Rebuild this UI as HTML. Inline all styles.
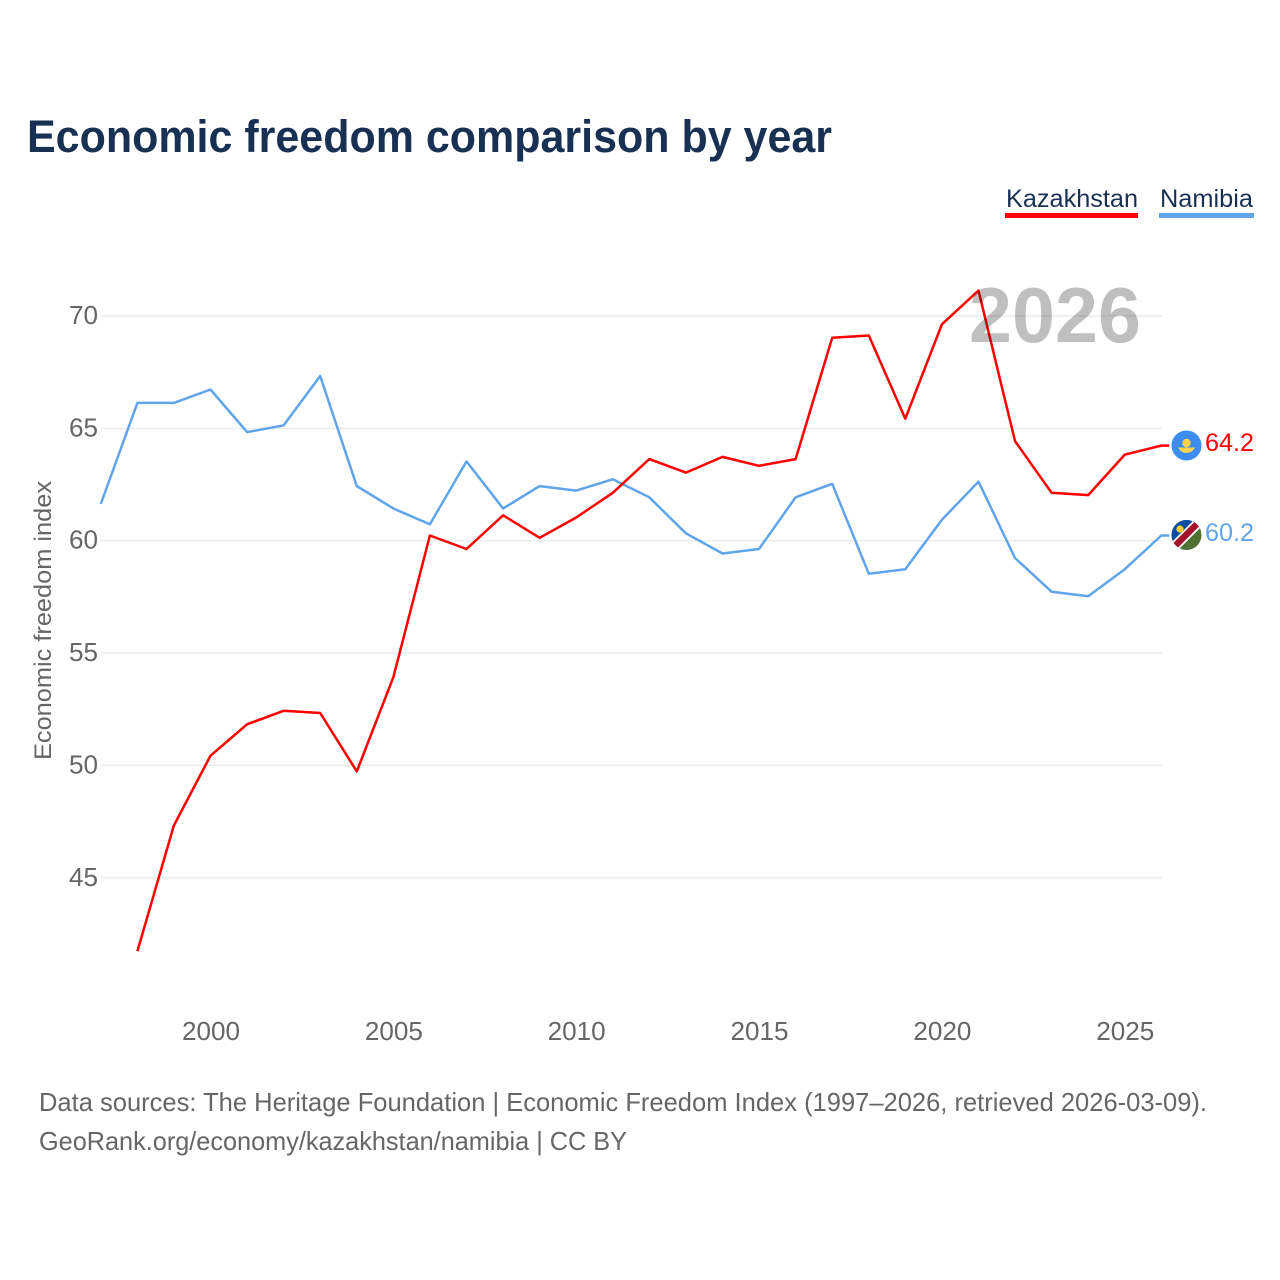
<!DOCTYPE html>
<html lang="en">
<head>
<meta charset="utf-8">
<title>Economic freedom comparison by year</title>
<style>
html,body{margin:0;padding:0;background:#fff}
svg{display:block;font-family:"Liberation Sans",sans-serif}
</style>
</head>
<body>
<svg id="chart" xmlns="http://www.w3.org/2000/svg" width="1280" height="1280" viewBox="0 0 1280 1280">
<rect width="1280" height="1280" fill="#fff"/>
<text x="27" y="152" font-size="45" font-weight="700" fill="#183153" textLength="805" lengthAdjust="spacingAndGlyphs">Economic freedom comparison by year</text>
<g id="grid"></g>
<g id="yticks"></g>
<g id="xticks"></g>
<text transform="translate(51 760) rotate(-90)" font-size="24" fill="#666" textLength="279" lengthAdjust="spacingAndGlyphs">Economic freedom index</text>
<g id="lines" transform="translate(-0.5 -0.7)"></g>
<text x="969" y="342" font-size="78" font-weight="700" fill="#000" fill-opacity="0.25" textLength="172" lengthAdjust="spacingAndGlyphs">2026</text>

<g>
<text x="1006" y="207" font-size="25" fill="#183153" textLength="132" lengthAdjust="spacingAndGlyphs">Kazakhstan</text>
<rect x="1005" y="213" width="133" height="5" fill="#ff0000"/>
</g>
<g>
<text x="1160" y="207" font-size="25" fill="#183153" textLength="93" lengthAdjust="spacingAndGlyphs">Namibia</text>
<rect x="1159" y="213" width="95" height="5" fill="#60a5ec"/>
</g>

<g>
<circle cx="1186.5" cy="445.5" r="15" fill="#3b8df0"/>
<circle cx="1186.5" cy="443" r="4.2" fill="#ffd24d"/>
<path d="M1178 447.5 L1195 447.5 Q1192 453 1186.5 453 Q1181 453 1178 447.5 Z" fill="#ffd24d"/>
</g>
<g>
<clipPath id="nam-clip"><circle cx="1186.5" cy="535" r="15"/></clipPath>
<g clip-path="url(#nam-clip)">
<rect x="1171" y="520" width="31" height="30" fill="#4f7233"/>
<polygon points="1171,520 1202,520 1171,550" fill="#0b4ea2"/>
<line x1="1173" y1="548" x2="1199" y2="522" stroke="#fff" stroke-width="10"/>
<line x1="1173" y1="548" x2="1199" y2="522" stroke="#a6122d" stroke-width="6.5"/>
<circle cx="1180" cy="529" r="3.6" fill="#ffce33"/>
</g>
</g>
<text x="1205" y="451" font-size="25" fill="#ff0000" textLength="49" lengthAdjust="spacingAndGlyphs">64.2</text>
<text x="1205" y="541" font-size="25" fill="#60a5ec" textLength="49" lengthAdjust="spacingAndGlyphs">60.2</text>

<text x="39" y="1111" font-size="26" fill="#666" textLength="1168" lengthAdjust="spacingAndGlyphs">Data sources: The Heritage Foundation | Economic Freedom Index (1997–2026, retrieved 2026-03-09).</text>
<text x="39" y="1150" font-size="26" fill="#666" textLength="588" lengthAdjust="spacingAndGlyphs">GeoRank.org/economy/kazakhstan/namibia | CC BY</text>
</svg>
<script>
const years = [1997,1998,1999,2000,2001,2002,2003,2004,2005,2006,2007,2008,2009,2010,2011,2012,2013,2014,2015,2016,2017,2018,2019,2020,2021,2022,2023,2024,2025,2026];
const kazakhstan = [null,41.7,47.3,50.4,51.8,52.4,52.3,49.7,53.9,60.2,59.6,61.1,60.1,61.0,62.1,63.6,63.0,63.7,63.3,63.6,69.0,69.1,65.4,69.6,71.1,64.4,62.1,62.0,63.8,64.2];
const namibia = [61.6,66.1,66.1,66.7,64.8,65.1,67.3,62.4,61.4,60.7,63.5,61.4,62.4,62.2,62.7,61.9,60.3,59.4,59.6,61.9,62.5,58.5,58.7,60.9,62.6,59.2,57.7,57.5,58.7,60.2];
const yTickValues = [45,50,55,60,65,70];
const xTickValues = [2000,2005,2010,2015,2020,2025];

const NS = 'http://www.w3.org/2000/svg';
const xScale = function (year) { return 211 + (year - 2000) * 36.57; };
const yScale = function (value) { return 316 + (70 - value) * 22.47; };

const gridGroup = document.getElementById('grid');
const yTickGroup = document.getElementById('yticks');
const xTickGroup = document.getElementById('xticks');
const lineGroup = document.getElementById('lines');

yTickValues.forEach(function (value) {
  const line = document.createElementNS(NS, 'line');
  
  
  line.setAttribute('x1', xScale(1997));
  line.setAttribute('x2', xScale(2026));
  line.setAttribute('y1', yScale(value));
  line.setAttribute('y2', yScale(value));
  line.setAttribute('stroke', '#ececec');
  line.setAttribute('stroke-width', '1.5');
  gridGroup.appendChild(line);

  const label = document.createElementNS(NS, 'text');
  
  
  label.setAttribute('x', 69);
  label.setAttribute('y', yScale(value) + 8);
  label.setAttribute('font-size', '26');
  label.setAttribute('fill', '#666');
  label.setAttribute('textLength', '29');
  label.setAttribute('lengthAdjust', 'spacingAndGlyphs');
  label.textContent = value;
  yTickGroup.appendChild(label);
});

xTickValues.forEach(function (year) {
  const label = document.createElementNS(NS, 'text');
  
  
  label.setAttribute('x', xScale(year) - 29);
  label.setAttribute('y', 1040);
  label.setAttribute('font-size', '26');
  label.setAttribute('fill', '#666');
  label.setAttribute('textLength', '58');
  label.setAttribute('lengthAdjust', 'spacingAndGlyphs');
  label.textContent = year;
  xTickGroup.appendChild(label);
});

function buildPoints(values) {
  const points = [];
  values.forEach(function (value, i) {
    if (value !== null) {
      points.push(xScale(years[i]).toFixed(1) + ',' + yScale(value).toFixed(1));
    }
  });
  const last = values[values.length - 1];
  points.push((xScale(years[years.length - 1]) + 8).toFixed(1) + ',' + yScale(last).toFixed(1));
  return points.join(' ');
}

const namibiaLine = document.createElementNS(NS, 'polyline');


namibiaLine.setAttribute('points', buildPoints(namibia));
namibiaLine.setAttribute('fill', 'none');
namibiaLine.setAttribute('stroke', '#60a5ec');
namibiaLine.setAttribute('stroke-width', '2.5');
namibiaLine.setAttribute('stroke-linejoin', 'round');
lineGroup.appendChild(namibiaLine);

const kazakhstanLine = document.createElementNS(NS, 'polyline');


kazakhstanLine.setAttribute('points', buildPoints(kazakhstan));
kazakhstanLine.setAttribute('fill', 'none');
kazakhstanLine.setAttribute('stroke', '#ff0000');
kazakhstanLine.setAttribute('stroke-width', '2.5');
kazakhstanLine.setAttribute('stroke-linejoin', 'round');
lineGroup.appendChild(kazakhstanLine);
</script>
</body>
</html>
